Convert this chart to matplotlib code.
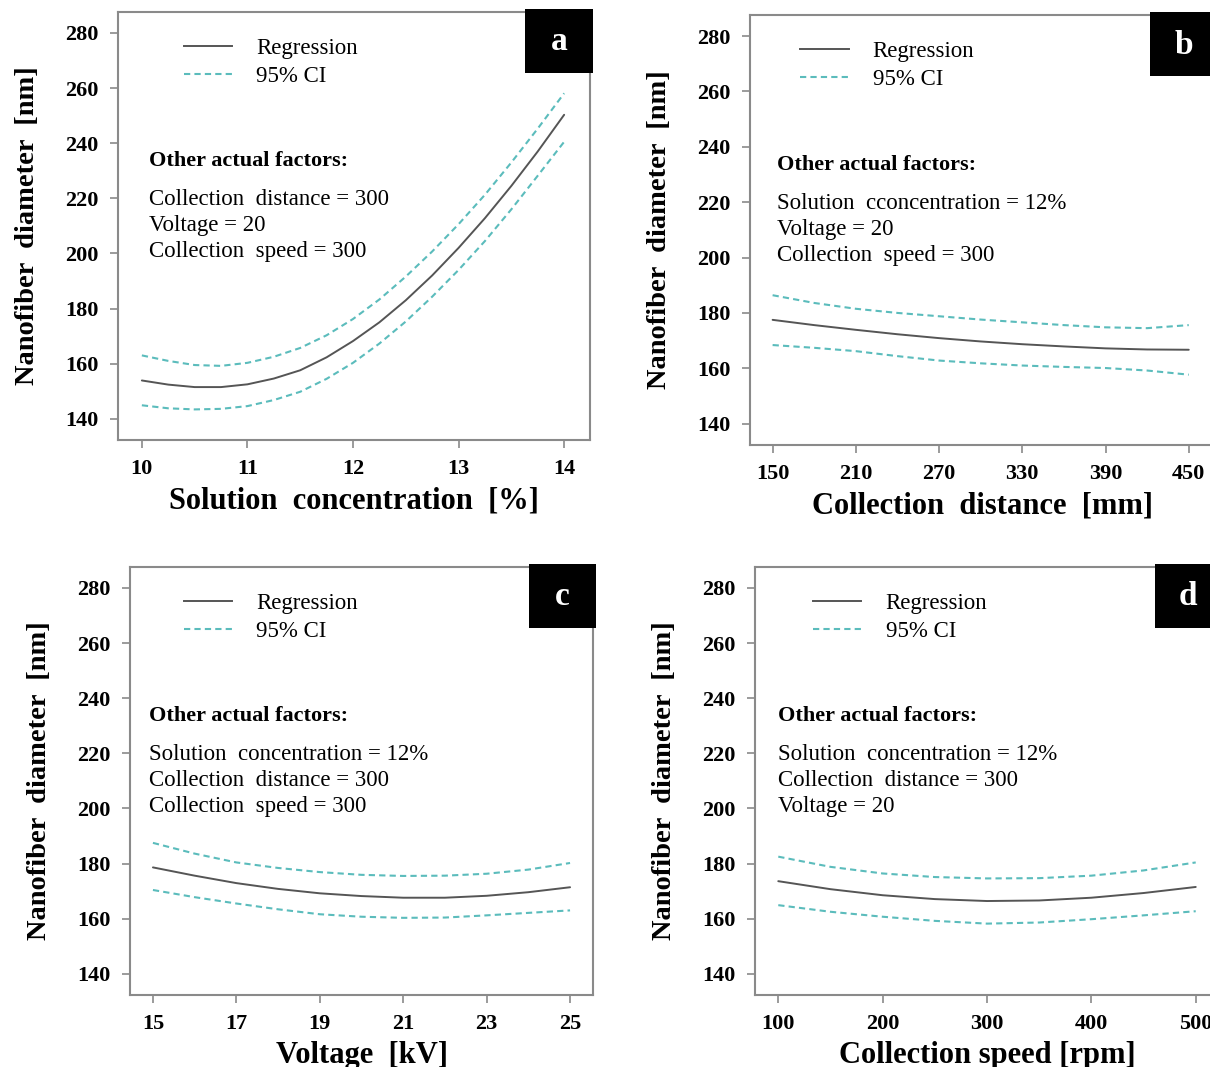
import matplotlib
matplotlib.use("Agg")
import matplotlib.pyplot as plt
from matplotlib.patches import Rectangle
from matplotlib.lines import Line2D

plt.rcParams['font.family'] = ['Liberation Serif', 'DejaVu Serif']

# ---------------- data ----------------
conc_x = [10, 10.25, 10.5, 10.75, 11, 11.25, 11.5, 11.75, 12, 12.25, 12.5, 12.75, 13, 13.25, 13.5, 13.75, 14]
conc_reg = [153.9, 152.4, 151.5, 151.5, 152.5, 154.6, 157.6, 162.3, 168.2, 175.0, 183.0, 192.0, 202.0, 212.8, 224.5, 237.0, 250.3]
conc_up = [163.0, 161.0, 159.5, 159.2, 160.3, 162.5, 165.7, 170.3, 176.2, 183.3, 191.6, 200.7, 210.6, 221.3, 233.0, 245.3, 258.1]
conc_lo = [144.9, 143.8, 143.4, 143.6, 144.6, 146.8, 149.8, 154.5, 160.3, 167.3, 175.3, 184.3, 194.0, 204.5, 216.0, 228.2, 240.5]

dist_x = [150, 180, 210, 240, 270, 300, 330, 360, 390, 420, 450]
dist_reg = [177.5, 175.6, 173.9, 172.3, 170.9, 169.7, 168.7, 167.9, 167.2, 166.8, 166.7]
dist_up = [186.4, 183.6, 181.5, 180.0, 178.8, 177.6, 176.6, 175.6, 174.8, 174.5, 175.6]
dist_lo = [168.4, 167.4, 166.2, 164.4, 162.8, 161.8, 161.0, 160.5, 160.1, 159.2, 157.7]

volt_x = [15, 16, 17, 18, 19, 20, 21, 22, 23, 24, 25]
volt_reg = [178.6, 175.6, 172.9, 170.8, 169.2, 168.2, 167.6, 167.6, 168.3, 169.6, 171.4]
volt_up = [187.5, 183.6, 180.4, 178.4, 176.9, 175.9, 175.5, 175.6, 176.3, 177.8, 180.2]
volt_lo = [170.4, 167.8, 165.5, 163.4, 161.6, 160.7, 160.3, 160.4, 161.2, 162.1, 163.0]

speed_x = [100, 150, 200, 250, 300, 350, 400, 450, 500]
speed_reg = [173.6, 170.7, 168.5, 167.1, 166.4, 166.6, 167.6, 169.3, 171.5]
speed_up = [182.5, 178.8, 176.4, 175.1, 174.6, 174.7, 175.6, 177.5, 180.4]
speed_lo = [164.9, 162.5, 160.7, 159.2, 158.2, 158.6, 159.8, 161.2, 162.7]

y_ticks = [140, 160, 180, 200, 220, 240, 260, 280]

panels = [
    dict(label='a', x=conc_x, reg=conc_reg, up=conc_up, lo=conc_lo,
         xticks=[10, 11, 12, 13, 14], xlim=(9.774, 14.245),
         xlabel='Solution  concentration  [%]',
         factors=['Collection  distance = 300', 'Voltage = 20', 'Collection  speed = 300'],
         leg_x=0.121, txt_x=0.066),
    dict(label='b', x=dist_x, reg=dist_reg, up=dist_up, lo=dist_lo,
         xticks=[150, 210, 270, 330, 390, 450], xlim=(133.7, 468.2),
         xlabel='Collection  distance  [mm]',
         factors=['Solution  cconcentration = 12%', 'Voltage = 20', 'Collection  speed = 300'],
         leg_x=0.089, txt_x=0.059),
    dict(label='c', x=volt_x, reg=volt_reg, up=volt_up, lo=volt_lo,
         xticks=[15, 17, 19, 21, 23, 25], xlim=(14.45, 25.55),
         xlabel='Voltage  [kV]',
         factors=['Solution  concentration = 12%', 'Collection  distance = 300', 'Collection  speed = 300'],
         leg_x=0.097, txt_x=0.041),
    dict(label='d', x=speed_x, reg=speed_reg, up=speed_up, lo=speed_lo,
         xticks=[100, 200, 300, 400, 500], xlim=(77.7, 522.3),
         xlabel='Collection speed [rpm]',
         factors=['Solution  concentration = 12%', 'Collection  distance = 300', 'Voltage = 20'],
         leg_x=0.106, txt_x=0.049),
]

W, H = 1210, 1067
fig = plt.figure(figsize=(W / 100, H / 100), dpi=100)

# axes boxes in pixels (left, top, right, bottom)
boxes = [(118, 12, 590, 440), (750, 15, 1214, 445), (130, 567, 593, 995), (755, 567, 1219, 995)]

REG_C = '#555555'
CI_C = '#5bbcbc'
FRAME_C = '#8a8a8a'

for p, (l, t, r, b) in zip(panels, boxes):
    ax = fig.add_axes([l / W, 1 - b / H, (r - l) / W, (b - t) / H])
    ax.plot(p['x'], p['reg'], color=REG_C, lw=1.4, solid_capstyle='round')
    ax.plot(p['x'], p['up'], color=CI_C, lw=1.5, ls=(0, (3, 2)))
    ax.plot(p['x'], p['lo'], color=CI_C, lw=1.5, ls=(0, (3, 2)))
    ax.set_xlim(*p['xlim'])
    ax.set_ylim(132.3, 287.6)
    ax.set_xticks(p['xticks'])
    ax.set_yticks(y_ticks)
    for s in ax.spines.values():
        s.set_color(FRAME_C)
        s.set_linewidth(1.5)
    ax.tick_params(direction='out', length=6, width=1.2, color=FRAME_C,
                   labelsize=16, pad=8)
    for lab in ax.get_xticklabels() + ax.get_yticklabels():
        lab.set_fontweight('bold')
    ax.set_xlabel(p['xlabel'], fontsize=22, fontweight='bold', labelpad=5)
    ax.set_ylabel('Nanofiber  diameter  [nm]', fontsize=20.5, fontweight='bold', labelpad=18)

    handles = [Line2D([], [], color=REG_C, lw=1.4),
               Line2D([], [], color=CI_C, lw=1.5, ls=(0, (3, 2)))]
    ax.legend(handles, ['Regression', '95% CI'], loc='upper left',
              bbox_to_anchor=(p['leg_x'], 0.96), frameon=False, fontsize=16.5,
              handlelength=2.1, handletextpad=1.05, labelspacing=0.28, borderaxespad=0)

    ax.text(p['txt_x'], 0.652, 'Other actual factors:', transform=ax.transAxes,
            fontsize=16, fontweight='bold', va='center', ha='left')
    for i, f in enumerate(p['factors']):
        ax.text(p['txt_x'], 0.561 - i * 0.0605, f, transform=ax.transAxes,
                fontsize=16.5, va='center', ha='left')

    rect = Rectangle((0.862, 0.858), 0.145, 0.15, transform=ax.transAxes,
                     facecolor='black', edgecolor='none', clip_on=False, zorder=5)
    ax.add_patch(rect)
    ax.text(0.934, 0.93, p['label'], transform=ax.transAxes, color='white',
            fontsize=24, fontweight='bold', ha='center', va='center', zorder=6)

fig.savefig('out.png', dpi=100)
